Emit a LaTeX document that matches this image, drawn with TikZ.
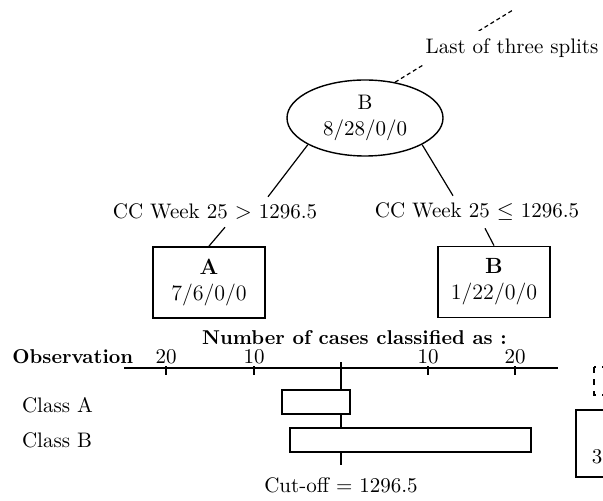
\documentclass[tikz,border=0pt]{standalone}
\usetikzlibrary{shapes.geometric}
\begin{document}
\begin{tikzpicture}[x=0.5pt,y=-0.5pt,
  every node/.style={font=\fontsize{10.5}{13}\selectfont},
  splitnode/.style={draw,ellipse,line width=0.7pt,minimum width=78pt,minimum height=38pt,inner sep=0pt,align=center},
  leafbox/.style={draw,line width=0.9pt,minimum width=56pt,minimum height=35.5pt,inner sep=0pt,align=center,font=\fontsize{11}{13}\selectfont},
  rulelabel/.style={inner xsep=1pt,inner ysep=3.5pt},
  edge/.style={line width=0.6pt},
  axisline/.style={line width=0.6pt},
  bar/.style={draw,fill=white,line width=0.7pt},
  leader/.style={line width=0.6pt,dash pattern=on 2pt off 1.5pt}]
\useasboundingbox (0,0) rectangle (603,501);
\clip (0,0) rectangle (603,501);

% the tree
\node[splitnode] (root) at (365,118) {B\\8/28/0/0};
\coordinate (lead) at (513,10);
\draw[leader] (root.50) -- (lead);
\node[fill=white,inner xsep=1pt,inner ysep=4pt] (note) at (512,48) {Last of three splits};

\node[rulelabel] (lsplit) at (215,212) {CC Week 25 $>$ 1296.5};
\node[rulelabel] (rsplit) at (477,212) {CC Week 25 $\leq$ 1296.5};
\node[leafbox] (leafA) at (209,282.5) {\textbf{A}\\7/6/0/0};
\node[leafbox] (leafB) at (494,282) {\textbf{B}\\1/22/0/0};

\draw[edge] (root.205) -- ([xshift=26.5pt]lsplit.north);
\draw[edge] (root.-25) -- ([xshift=-12pt]rsplit.north);
\draw[edge] ([xshift=5pt]lsplit.south) -- (leafA.north);
\draw[edge] ([xshift=4pt]rsplit.south) -- (leafB.north);

% the scale of cases
\node[inner sep=1pt,font=\bfseries\fontsize{10}{12}\selectfont] (title) at (354.5,338) {Number of cases classified as :};
\node[anchor=base west,inner sep=1pt,font=\bfseries\fontsize{10}{12}\selectfont] (obs) at (10,363) {Observation};
\draw[axisline] (124,368) -- (558,368);
\foreach \x/\n in {166/20,254/10,428/10,515/20}{
  \draw[axisline] (\x,366) -- (\x,375);
  \node[anchor=base,inner sep=1pt] (tick\x) at (\x,363) {\n};
}
\draw[axisline] (341,362) -- (341,465);
\draw[bar] (282,390) rectangle (350,414);
\draw[bar] (290,428) rectangle (531,452);
\node[anchor=west] (clsA) at (15,405) {Class A};
\node[anchor=west] (clsB) at (15,440) {Class B};
\node (cutoff) at (341,485) {Cut-off = 1296.5};

% next picture, cut off at the edge
\draw[dashed,line width=0.6pt] (594,367) rectangle (615,395);
\draw[bar] (576,410) rectangle (625,477);
\node (part3) at (597,457) {3};
\end{tikzpicture}
\end{document}
